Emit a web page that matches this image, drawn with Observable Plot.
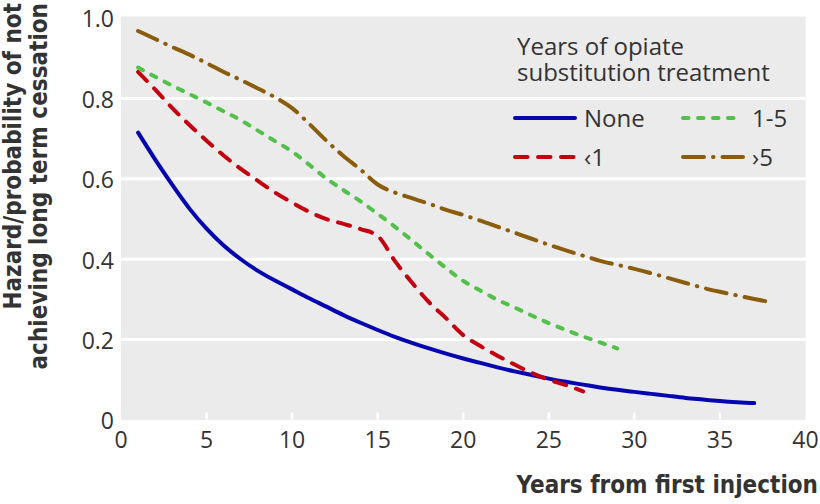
<!DOCTYPE html>
<html>
<head>
<meta charset="utf-8">
<script src="https://cdn.jsdelivr.net/npm/d3@7"></script>
<script src="https://cdn.jsdelivr.net/npm/@observablehq/plot@0.6"></script>
<style>
  html, body { margin: 0; padding: 0; background: #ffffff; }
  #chart svg { display: block; }
</style>
</head>
<body>
<div id="chart"></div>
<script>
// ---- Data ----
const seriesNames = ["None", "‹1", "1-5", "›5"];
const seriesColors = ["#0606b0", "#c4020f", "#52c04b", "#8a5c0c"];
const seriesDash = [null, "12.5,10.5", "5.5,9.5", "21,9,0.5,9"];
const seriesCurve = ["natural", "monotone-x", "monotone-x", "monotone-x"];

const noneYears = [1,2,3,4,5,6,7,8,9,10,11,12,13,14,15,16,17,18,19,20,21,22,23,24,25,26,27,28,29,30,31,32,33,34,35,36,37];
const noneValues = [0.715,0.648,0.585,0.526,0.476,0.434,0.400,0.371,0.347,0.325,0.303,0.282,0.261,0.242,0.224,0.207,0.192,0.178,0.165,0.153,0.142,0.131,0.121,0.112,0.103,0.095,0.088,0.081,0.075,0.070,0.065,0.060,0.055,0.051,0.047,0.044,0.042];

const lt1Years = [1,2,3,4,5,6,7,8,9,10,11,12,13,14,15,16,17,18,19,20,21,22,23,24,25,26,27];
const lt1Values = [0.866,0.822,0.776,0.734,0.695,0.658,0.625,0.595,0.566,0.541,0.518,0.500,0.488,0.475,0.458,0.396,0.342,0.293,0.253,0.211,0.184,0.160,0.138,0.117,0.100,0.087,0.071];

const y1to5Years = [1,2,3,4,5,6,7,8,9,10,11,12,13,14,15,16,17,18,19,20,21,22,23,24,25,26,27,28,29];
const y1to5Values = [0.877,0.854,0.832,0.811,0.790,0.768,0.746,0.720,0.694,0.668,0.635,0.601,0.572,0.544,0.513,0.481,0.447,0.412,0.378,0.346,0.322,0.299,0.280,0.260,0.241,0.224,0.208,0.193,0.178];

const gt5Years = [1,2,3,4,5,6,7,8,9,10,11,12,13,14,15,16,17,18,19,20,21,22,23,24,25,26,27,28,29,30,31,32,33,34,35,36,37,38];
const gt5Values = [0.968,0.948,0.928,0.909,0.888,0.866,0.846,0.825,0.803,0.776,0.737,0.695,0.657,0.623,0.586,0.566,0.552,0.538,0.523,0.510,0.496,0.481,0.466,0.451,0.436,0.422,0.409,0.396,0.386,0.376,0.365,0.353,0.341,0.329,0.319,0.310,0.301,0.293];

const xTicks = [0,5,10,15,20,25,30,35,40];
const xInnerTicks = [5,10,15,20,25,30,35];
const yTicks = [0,0.2,0.4,0.6,0.8,1.0];
const yGrid = [0.2,0.4,0.6,0.8];

const xTitle = "Years from first injection";
const yTitleLines = ["Hazard/probability of not", "achieving long term cessation"];
const legendTitleLines = ["Years of opiate", "substitution treatment"];

// ---- Build table ----
const allYears = [noneYears, lt1Years, y1to5Years, gt5Years];
const allValues = [noneValues, lt1Values, y1to5Values, gt5Values];
const rows = [];
seriesNames.forEach((name, i) => {
  allYears[i].forEach((yr, j) => rows.push({series: name, year: yr, value: allValues[i][j]}));
});

const regularFont = "'Open Sans', 'Noto Sans', sans-serif";
const boldFont = "'DejaVu Sans Condensed', 'DejaVu Sans', sans-serif";
const textColor = "#333333";

const lineMarks = seriesNames.map((name, i) =>
  Plot.line(rows.filter(d => d.series === name), {
    x: "year", y: "value",
    stroke: seriesColors[i], strokeWidth: 4,
    strokeDasharray: seriesDash[i] || undefined,
    strokeLinecap: "round", strokeLinejoin: "round",
    curve: seriesCurve[i]
  })
);

const chart = Plot.plot({
  width: 820,
  height: 504,
  marginLeft: 120.5,
  marginRight: 15,
  marginTop: 16,
  marginBottom: 84.5,
  style: {fontFamily: regularFont, fontSize: "23px", color: textColor, background: "#ffffff"},
  x: {domain: [0, 40]},
  y: {domain: [0, 1.004]},
  marks: [
    Plot.frame({fill: "#ebebeb", stroke: null}),
    Plot.ruleY(yGrid, {stroke: "#ffffff", strokeWidth: 3}),
    Plot.axisX(xInnerTicks, {tickSize: -7, stroke: "#ffffff", strokeWidth: 2.5, tickFormat: () => "", label: null}),
    Plot.axisX(xTicks, {tickSize: 0, tickPadding: 12, fontSize: 23, fill: textColor, label: null}),
    Plot.axisY(yTicks, {tickSize: 0, tickPadding: 7, dy: 2, fontSize: 23, fill: textColor, label: null,
      tickFormat: d => d === 0 ? "0" : d.toFixed(1)}),
    ...lineMarks
  ]
});

document.getElementById("chart").appendChild(chart);

// ---- Titles and legend ----
const svg = d3.select(chart);

svg.append("text")
  .attr("x", 818).attr("y", 493)
  .attr("text-anchor", "end")
  .attr("font-family", boldFont).attr("font-weight", "bold").attr("font-stretch", "condensed")
  .attr("font-size", 24).attr("fill", textColor)
  .text(xTitle);

yTitleLines.forEach((line, i) => {
  svg.append("text")
    .attr("transform", `translate(${21 + i * 26},3) rotate(-90)`)
    .attr("text-anchor", "end")
    .attr("font-family", boldFont).attr("font-weight", "bold").attr("font-stretch", "condensed")
    .attr("font-size", 24).attr("fill", textColor)
    .text(line);
});

const leg = svg.append("g")
  .attr("font-family", regularFont).attr("font-size", 24).attr("fill", textColor)
  .attr("text-anchor", "start");
legendTitleLines.forEach((line, i) => {
  leg.append("text").attr("x", 517).attr("y", 55 + i * 26).attr("text-anchor", "start").text(line);
});
const legendOrder = [0, 2, 1, 3]; // None, 1-5 / ‹1, ›5
legendOrder.forEach((si, k) => {
  const col = k % 2, row = Math.floor(k / 2);
  const x0 = 515 + col * 168, ly = 118 + row * 39;
  leg.append("line")
    .attr("x1", x0).attr("x2", x0 + 60).attr("y1", ly).attr("y2", ly)
    .attr("stroke", seriesColors[si]).attr("stroke-width", 4)
    .attr("stroke-linecap", "round")
    .attr("stroke-dasharray", seriesDash[si]);
  leg.append("text").attr("x", x0 + 69).attr("y", ly + 8.6).attr("text-anchor", "start").text(seriesNames[si]);
});
</script>
</body>
</html>
